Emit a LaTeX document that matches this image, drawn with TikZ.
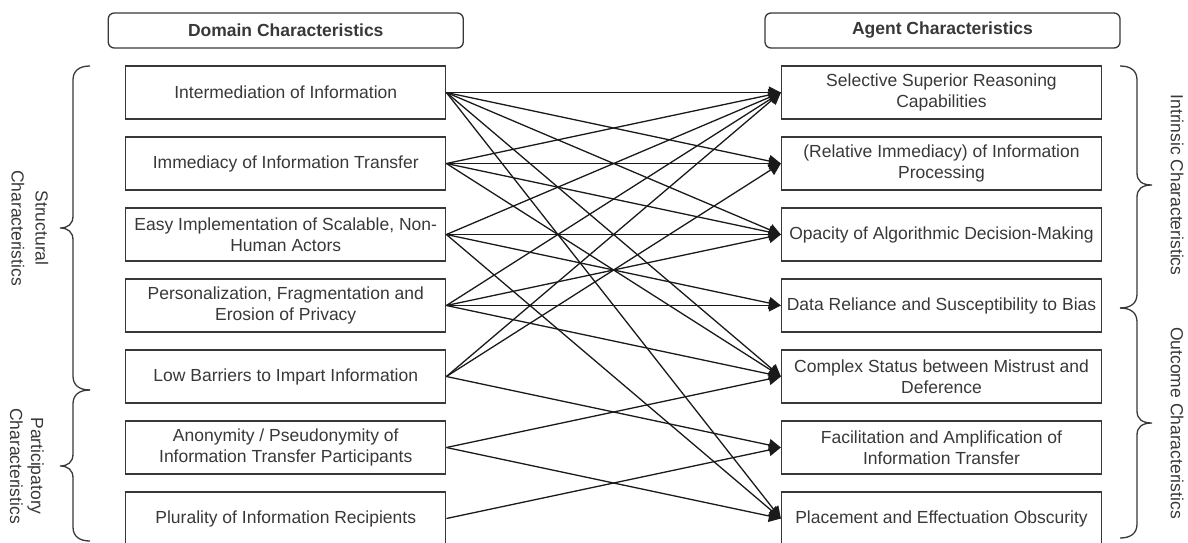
\documentclass[tikz,border=0pt]{standalone}
\usepackage{fontspec}
\setmainfont{Liberation Sans}
\usetikzlibrary{arrows.meta}
\definecolor{ink}{HTML}{383838}
\definecolor{edgeink}{HTML}{1A1A1A}
\begin{document}
\begin{tikzpicture}[x=1pt,y=-1pt,
  every node/.style={font=\fontsize{17.5}{21}\selectfont, text=ink},
  itembox/.style={draw=ink, line width=1.3pt, minimum width=320pt, minimum height=53pt, align=center, inner sep=2pt},
  headbox/.style={draw=ink, line width=1.3pt, rounded corners=6pt, minimum width=355pt, minimum height=35pt, font=\fontsize{17.5}{21}\selectfont\bfseries},
  link/.style={draw=edgeink, line width=1.3pt, -{Triangle[length=12pt,width=12pt]}},
  brace/.style={draw=ink, line width=1.3pt},
  sidelabel/.style={rotate=-90, align=center}]
\useasboundingbox (0,0) rectangle (1188,542);

% column headers
\node[headbox] (hd) at (285.75,30.5) {Domain Characteristics};
\node[headbox] (ha) at (942.5,30.5) {Agent Characteristics};

% domain characteristics
\node[itembox] (L1) at (285.75,92.5) {Intermediation of Information};
\node[itembox] (L2) at (285.75,163.5) {Immediacy of Information Transfer};
\node[itembox] (L3) at (285.75,234.5) {Easy Implementation of Scalable, Non-\\Human Actors};
\node[itembox] (L4) at (285.75,305.5) {Personalization, Fragmentation and\\Erosion of Privacy};
\node[itembox] (L5) at (285.75,376.5) {Low Barriers to Impart Information};
\node[itembox] (L6) at (285.75,447.5) {Anonymity / Pseudonymity of\\Information Transfer Participants};
\node[itembox] (L7) at (285.75,518.5) {Plurality of Information Recipients};

% agent characteristics
\node[itembox] (R1) at (941.5,92.5) {Selective Superior Reasoning\\Capabilities};
\node[itembox] (R2) at (941.5,163.5) {(Relative Immediacy) of Information\\Processing};
\node[itembox] (R3) at (941.5,234.5) {Opacity of Algorithmic Decision-Making};
\node[itembox] (R4) at (941.5,305.5) {Data Reliance and Susceptibility to Bias};
\node[itembox] (R5) at (941.5,376.5) {Complex Status between Mistrust and\\Deference};
\node[itembox] (R6) at (941.5,447.5) {Facilitation and Amplification of\\Information Transfer};
\node[itembox] (R7) at (941.5,518.5) {Placement and Effectuation Obscurity};

% links between the two columns
\foreach \a/\b in {1/1,1/2,1/3,1/5,1/7,
                   2/1,2/2,2/3,2/5,
                   3/1,3/3,3/4,3/7,
                   4/1,4/3,4/4,4/5,
                   5/1,5/2,5/6,
                   6/5,6/7,
                   7/6}
  \draw[link] (L\a.east) -- (R\b.west);

% left braces
\draw[brace] (90,66) .. controls (79,66) and (73,71) .. (73,80) -- (73,216)
  .. controls (73,224) and (68,228) .. (60,228)
  .. controls (68,228) and (73,232) .. (73,240) -- (73,376)
  .. controls (73,385) and (79,390) .. (90,390);
\draw[brace] (90,390) .. controls (79,390) and (73,395) .. (73,404) -- (73,454)
  .. controls (73,462) and (68,466) .. (60,466)
  .. controls (68,466) and (73,470) .. (73,478) -- (73,527)
  .. controls (73,536) and (79,541) .. (90,541);

% right braces
\draw[brace] (1120,66) .. controls (1131,66) and (1137,71) .. (1137,80) -- (1137,173)
  .. controls (1137,181) and (1142,185) .. (1152,185)
  .. controls (1142,185) and (1137,189) .. (1137,197) -- (1137,294)
  .. controls (1137,303) and (1131,308) .. (1120,308);
\draw[brace] (1120,308) .. controls (1131,308) and (1137,313) .. (1137,322) -- (1137,411)
  .. controls (1137,419) and (1142,423) .. (1152,423)
  .. controls (1142,423) and (1137,427) .. (1137,435) -- (1137,524)
  .. controls (1137,533) and (1131,538) .. (1120,538);

% brace labels
\node[sidelabel, font=\fontsize{17.5}{24}\selectfont] (sc) at (30,228) {Structural\\Characteristics};
\node[sidelabel] (pc) at (27,466) {Participatory\\Characteristics};
\node[sidelabel] (ic) at (1177,185) {Intrinsic Characteristics};
\node[sidelabel] (oc) at (1177,423) {Outcome Characteristics};
\end{tikzpicture}
\end{document}
